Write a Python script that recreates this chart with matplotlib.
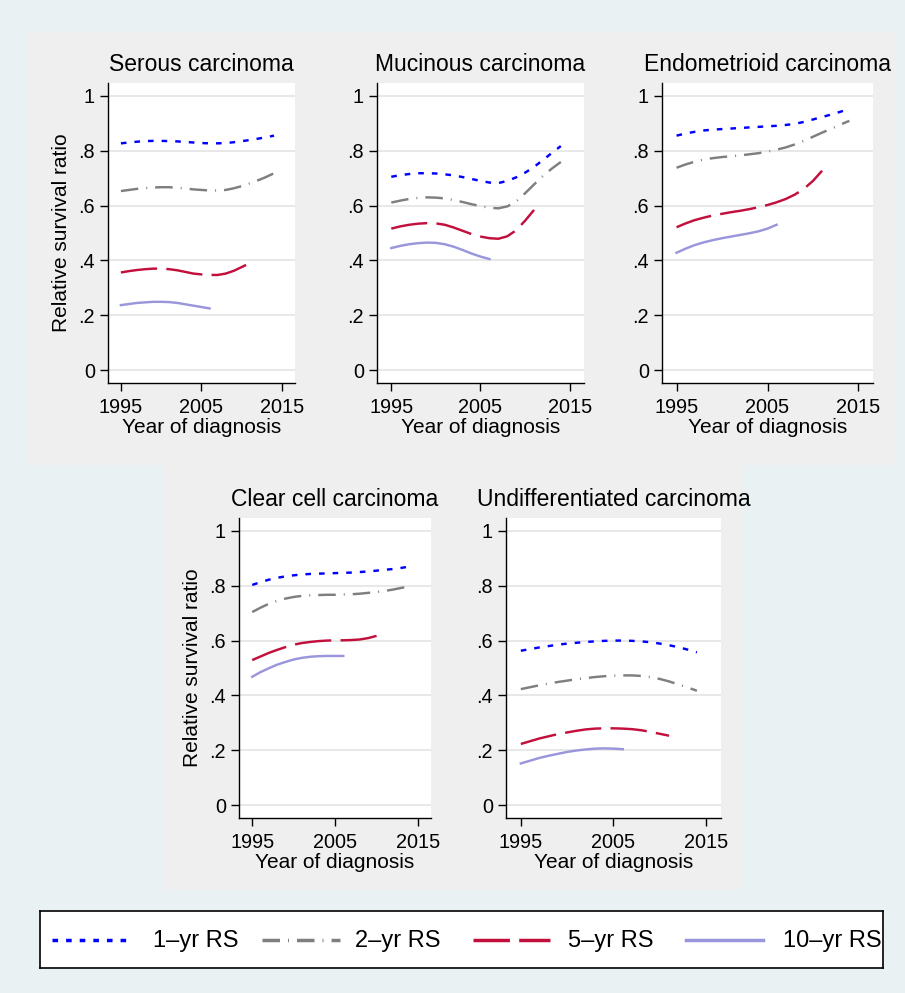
import matplotlib
matplotlib.use("Agg")
import matplotlib.pyplot as plt
from matplotlib.patches import Rectangle
from matplotlib.lines import Line2D

plt.rcParams["font.family"] = ["Liberation Sans", "DejaVu Sans"]

# ---------------------------------------------------------------- data
years_1yr = list(range(1995, 2015))
years_2yr = list(range(1995, 2015))
years_5yr = list(range(1995, 2012))
years_10yr = list(range(1995, 2007))

titles = ["Serous carcinoma", "Mucinous carcinoma", "Endometrioid carcinoma",
          "Clear cell carcinoma", "Undifferentiated carcinoma"]
series_labels = ["1\u2013yr RS", "2\u2013yr RS", "5\u2013yr RS", "10\u2013yr RS"]

serous_1yr = [0.827, 0.830, 0.833, 0.835, 0.836, 0.836, 0.835, 0.834, 0.832, 0.830,
              0.828, 0.827, 0.827, 0.828, 0.831, 0.835, 0.839, 0.844, 0.849, 0.855]
serous_2yr = [0.653, 0.657, 0.661, 0.664, 0.666, 0.667, 0.667, 0.665, 0.662, 0.659,
              0.657, 0.655, 0.655, 0.657, 0.663, 0.671, 0.681, 0.692, 0.704, 0.718]
serous_5yr = [0.356, 0.361, 0.365, 0.368, 0.370, 0.370, 0.368, 0.364, 0.358, 0.352,
              0.349, 0.347, 0.347, 0.352, 0.362, 0.376, 0.390]
serous_10yr = [0.237, 0.241, 0.245, 0.247, 0.249, 0.249, 0.248, 0.245, 0.240, 0.235,
               0.230, 0.225]

mucinous_1yr = [0.705, 0.711, 0.715, 0.718, 0.718, 0.717, 0.714, 0.710, 0.704, 0.697,
                0.690, 0.684, 0.682, 0.690, 0.703, 0.720, 0.741, 0.766, 0.792, 0.817]
mucinous_2yr = [0.611, 0.618, 0.624, 0.628, 0.630, 0.629, 0.626, 0.620, 0.613, 0.605,
                0.598, 0.592, 0.590, 0.597, 0.615, 0.645, 0.677, 0.708, 0.735, 0.759]
mucinous_5yr = [0.516, 0.524, 0.530, 0.534, 0.536, 0.535, 0.530, 0.520, 0.508, 0.496,
                0.487, 0.481, 0.479, 0.488, 0.510, 0.545, 0.584]
mucinous_10yr = [0.445, 0.453, 0.459, 0.463, 0.465, 0.464, 0.459, 0.450, 0.438, 0.425,
                 0.414, 0.405]

endometrioid_1yr = [0.855, 0.863, 0.869, 0.874, 0.877, 0.879, 0.881, 0.883, 0.885, 0.887,
                    0.889, 0.891, 0.894, 0.898, 0.905, 0.914, 0.923, 0.932, 0.942, 0.953]
endometrioid_2yr = [0.738, 0.750, 0.760, 0.768, 0.773, 0.777, 0.780, 0.783, 0.787, 0.791,
                    0.797, 0.804, 0.812, 0.823, 0.836, 0.851, 0.866, 0.880, 0.895, 0.909]
endometrioid_5yr = [0.521, 0.535, 0.547, 0.556, 0.564, 0.570, 0.576, 0.581, 0.587, 0.594,
                    0.602, 0.612, 0.624, 0.640, 0.661, 0.690, 0.727]
endometrioid_10yr = [0.428, 0.443, 0.456, 0.466, 0.474, 0.481, 0.487, 0.493, 0.499, 0.506,
                     0.516, 0.530]

clearcell_1yr = [0.803, 0.813, 0.822, 0.829, 0.834, 0.838, 0.841, 0.843, 0.844, 0.845,
                 0.846, 0.847, 0.848, 0.850, 0.852, 0.855, 0.858, 0.861, 0.865, 0.870]
clearcell_2yr = [0.704, 0.720, 0.734, 0.745, 0.753, 0.759, 0.763, 0.765, 0.766, 0.767,
                 0.767, 0.768, 0.769, 0.771, 0.774, 0.777, 0.781, 0.786, 0.792, 0.798]
clearcell_5yr = [0.529, 0.542, 0.555, 0.566, 0.576, 0.585, 0.591, 0.595, 0.598, 0.600,
                 0.601, 0.601, 0.602, 0.604, 0.609, 0.617, 0.628]
clearcell_10yr = [0.468, 0.485, 0.499, 0.512, 0.522, 0.531, 0.537, 0.541, 0.543, 0.544,
                  0.544, 0.544]

undiff_1yr = [0.563, 0.569, 0.575, 0.580, 0.585, 0.589, 0.592, 0.595, 0.597, 0.599,
              0.600, 0.600, 0.599, 0.597, 0.594, 0.589, 0.583, 0.576, 0.567, 0.557]
undiff_2yr = [0.423, 0.430, 0.437, 0.443, 0.449, 0.454, 0.459, 0.463, 0.467, 0.470,
              0.472, 0.473, 0.473, 0.471, 0.467, 0.460, 0.451, 0.440, 0.429, 0.417]
undiff_5yr = [0.223, 0.233, 0.243, 0.251, 0.259, 0.265, 0.271, 0.276, 0.279, 0.280,
              0.280, 0.279, 0.277, 0.273, 0.267, 0.260, 0.253]
undiff_10yr = [0.152, 0.162, 0.172, 0.180, 0.187, 0.194, 0.199, 0.203, 0.206, 0.207,
               0.206, 0.204]

panels = [
    (serous_1yr, serous_2yr, serous_5yr, serous_10yr),
    (mucinous_1yr, mucinous_2yr, mucinous_5yr, mucinous_10yr),
    (endometrioid_1yr, endometrioid_2yr, endometrioid_5yr, endometrioid_10yr),
    (clearcell_1yr, clearcell_2yr, clearcell_5yr, clearcell_10yr),
    (undiff_1yr, undiff_2yr, undiff_5yr, undiff_10yr),
]
series_years = [years_1yr, years_2yr, years_5yr, years_10yr]

y_ticks = [0, 0.2, 0.4, 0.6, 0.8, 1.0]
y_ticklabels = ["0", ".2", ".4", ".6", ".8", "1"]
x_ticks = [1995, 2005, 2015]

# ---------------------------------------------------------------- styling
LW = 1.75
LEGEND_LW = 2.5
line_styles = [
    dict(color="#0000ff", lw=LW, dashes=(2.3, 3.3)),                 # short dash
    dict(color="#7f7f7f", lw=LW, dashes=(7.2, 3.3, 0.4, 3.3)),       # long dash-dot
    dict(color="#c20f3c", lw=LW, dashes=(15.0, 3.8)),                # long dash
    dict(color="#9a96dc", lw=LW),                                    # solid
]


def legend_style(st):
    """Thicker legend sample that keeps the same absolute dash lengths."""
    out = dict(st, lw=LEGEND_LW)
    if "dashes" in st:
        out["dashes"] = tuple(d * LW / LEGEND_LW for d in st["dashes"])
    return out


W, H = 905, 993
OUTER_BG = "#eaf1f3"
INNER_BG = "#f0efef"

fig = plt.figure(figsize=(W / 100, H / 100), dpi=100, facecolor=OUTER_BG)


def frac_rect(x0, x1, ytop, ybot):
    return [x0 / W, 1 - ybot / H, (x1 - x0) / W, (ybot - ytop) / H]


# grey graph regions behind each row of panels
bg = fig.add_axes([0, 0, 1, 1], zorder=-10)
bg.set_axis_off()
bg.set_xlim(0, W)
bg.set_ylim(H, 0)
for (x0, x1, yt, yb) in [(27, 895, 32, 465), (164, 742, 465, 890)]:
    bg.add_patch(Rectangle((x0, yt), x1 - x0, yb - yt,
                           facecolor=INNER_BG, edgecolor="none"))

# plot-area positions (pixels): x0, x1, ytop, ybottom
boxes = [
    (108, 295, 83, 383),
    (377, 584, 83, 383),
    (662, 873, 83, 383),
    (239, 431, 518, 818),
    (506, 721, 518, 818),
]
with_ylabel = [True, False, False, True, False]

for i, (box, title, data) in enumerate(zip(boxes, titles, panels)):
    ax = fig.add_axes(frac_rect(*box))
    ax.set_facecolor("white")
    for yrs, vals, st in zip(series_years, data, line_styles):
        ax.plot(yrs, vals, **st)
    ax.set_xlim(1993.4, 2016.6)
    ax.set_ylim(-0.047, 1.047)
    ax.set_yticks(y_ticks)
    ax.set_yticklabels(y_ticklabels)
    ax.set_xticks(x_ticks)
    ax.grid(axis="y", color="#e6e6e6", lw=1.3)
    ax.set_axisbelow(True)
    for s in ("top", "right"):
        ax.spines[s].set_visible(False)
    for s in ("left", "bottom"):
        ax.spines[s].set_linewidth(1.0)
        ax.spines[s].set_color("black")
    ax.tick_params(axis="both", direction="out", length=5.5, width=1.0,
                   labelsize=14.3, colors="black")
    ax.tick_params(axis="y", pad=4)
    ax.tick_params(axis="x", pad=5)
    ax.set_title(title, fontsize=16.5, pad=9)
    ax.set_xlabel("Year of diagnosis", fontsize=15, labelpad=1)
    if with_ylabel[i]:
        ax.set_ylabel("Relative survival ratio", fontsize=15, labelpad=5)

# legend box across the bottom
lax = fig.add_axes(frac_rect(40, 883, 911, 968))
lax.set_xlim(40, 883)
lax.set_ylim(968, 911)
lax.set_xticks([])
lax.set_yticks([])
lax.set_facecolor("white")
for s in lax.spines.values():
    s.set_linewidth(1.2)
    s.set_color("black")

handle_spans = [(52, 127), (262, 340), (473, 550), (686, 763)]
text_x = [153, 355, 568, 783]
for (hx0, hx1), tx, st, lab in zip(handle_spans, text_x, line_styles, series_labels):
    lax.add_line(Line2D([hx0, hx1], [940, 940], **legend_style(st)))
    lax.text(tx, 941, lab, fontsize=17, va="center", ha="left", clip_on=True)

fig.savefig("out.png", dpi=100, facecolor=OUTER_BG)
